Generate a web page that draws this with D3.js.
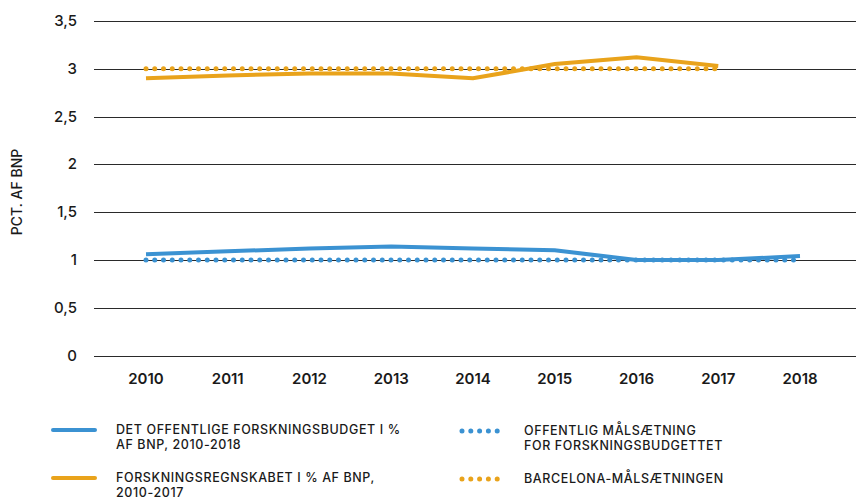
<!DOCTYPE html>
<html>
<head>
<meta charset="utf-8">
<script src="https://cdn.jsdelivr.net/npm/d3@7"></script>
<style>
  body { margin: 0; background: #fff; }
  text { font-family: Inter, "Noto Sans", sans-serif; fill: #1a1a1a; font-weight: 500; }
</style>
</head>
<body>
<script>
// data
var years = [2010, 2011, 2012, 2013, 2014, 2015, 2016, 2017, 2018];
var budget = [1.06, 1.09, 1.12, 1.14, 1.12, 1.10, 1.00, 1.00, 1.04];
var regnskab = [2.90, 2.93, 2.95, 2.95, 2.90, 3.05, 3.12, 3.03];
var budgetTarget = 1;
var barcelonaTarget = 3;
var yTicks = [0, 0.5, 1, 1.5, 2, 2.5, 3, 3.5];

var width = 856, height = 503;
var blue = "#3b92d2", orange = "#e9a31b";

var svg = d3.select('body')
            .append('svg')
            .attr('width', width)
            .attr('height', height);

var x = d3.scalePoint().domain(years).range([146, 800]);
var y = d3.scaleLinear().domain([0, 3.5]).range([355.5, 21]);

// grid lines
svg.selectAll('line.grid')
    .data(yTicks)
    .enter()
    .append('line')
    .attr('x1', 94).attr('x2', width)
    .attr('y1', function (d) { return Math.round(y(d)) + 0.5; })
    .attr('y2', function (d) { return Math.round(y(d)) + 0.5; })
    .attr('stroke', '#2a2a2a')
    .attr('stroke-width', 1);

// y labels
svg.selectAll('text.ytick')
    .data(yTicks)
    .enter()
    .append('text')
    .attr('x', 77)
    .attr('y', function (d) { return y(d) + 5; })
    .attr('text-anchor', 'end')
    .style('font-size', '15px')
    .text(function (d) { return String(d).replace('.', ','); });

// x labels
svg.selectAll('text.xtick')
    .data(years)
    .enter()
    .append('text')
    .attr('x', function (d) { return x(d); })
    .attr('y', 384)
    .attr('text-anchor', 'middle')
    .style('font-size', '15px')
    .style('font-weight', 600)
    .text(function (d) { return d; });

svg.append('text')
    .attr('transform', 'translate(22,192) rotate(-90)')
    .attr('text-anchor', 'middle')
    .style('font-size', '14px')
    .text('PCT. AF BNP');

// target lines (dotted)
function dotted(val, yrs, color) {
    svg.append('line')
        .attr('x1', x(yrs[0])).attr('x2', x(yrs[yrs.length - 1]))
        .attr('y1', y(val)).attr('y2', y(val))
        .attr('stroke', color)
        .attr('stroke-width', 5)
        .attr('stroke-linecap', 'round')
        .attr('stroke-dasharray', '0 8.75');
}
dotted(barcelonaTarget, years.slice(0, 8), orange);
dotted(budgetTarget, years, blue);

var line = d3.line()
    .x(function (d, i) { return x(years[i]); })
    .y(function (d) { return y(d); });

svg.append('path').datum(regnskab)
    .attr('d', line).attr('fill', 'none')
    .attr('stroke', orange).attr('stroke-width', 4);
svg.append('path').datum(budget)
    .attr('d', line).attr('fill', 'none')
    .attr('stroke', blue).attr('stroke-width', 4);

// legend
var legend = [
    {x: 53, y: 430, color: blue, dot: false, lines: ['DET OFFENTLIGE FORSKNINGSBUDGET I %', 'AF BNP, 2010-2018']},
    {x: 53, y: 478, color: orange, dot: false, lines: ['FORSKNINGSREGNSKABET I % AF BNP,', '2010-2017']},
    {x: 462, y: 431, color: blue, dot: true, lines: ['OFFENTLIG MÅLSÆTNING', 'FOR FORSKNINGSBUDGETTET']},
    {x: 462, y: 479, color: orange, dot: true, lines: ['BARCELONA-MÅLSÆTNINGEN']}
];
var leg = svg.selectAll('g.leg')
    .data(legend)
    .enter()
    .append('g');
leg.append('line')
    .attr('x1', function (d) { return d.x; })
    .attr('x2', function (d) { return d.dot ? d.x + 44 : d.x + 42; })
    .attr('y1', function (d) { return d.y; })
    .attr('y2', function (d) { return d.y; })
    .attr('stroke', function (d) { return d.color; })
    .attr('stroke-width', function (d) { return d.dot ? 5 : 4; })
    .attr('stroke-linecap', 'round')
    .attr('stroke-dasharray', function (d) { return d.dot ? '0 8.8' : null; });
leg.each(function (d) {
    var g = d3.select(this);
    d.lines.forEach(function (t, i) {
        g.append('text')
            .attr('x', d.dot ? d.x + 62 : d.x + 63)
            .attr('y', d.y + 4 + i * 15)
            .style('font-size', '12.5px')
            .style('letter-spacing', '0.6px')
            .text(t);
    });
});
</script>
</body>
</html>
